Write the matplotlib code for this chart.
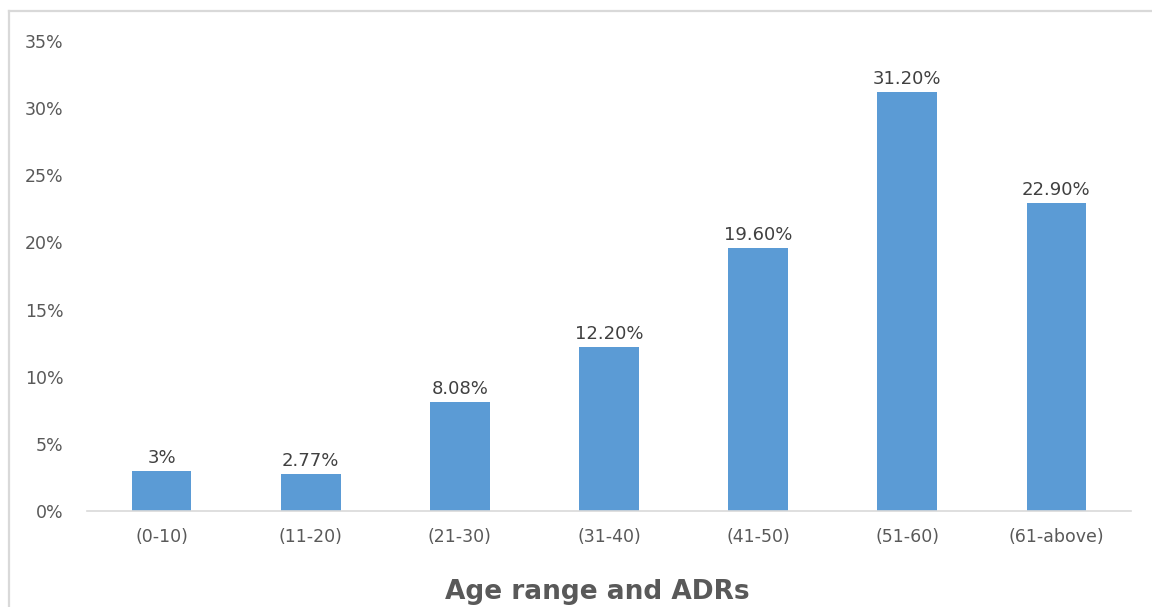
import matplotlib.pyplot as plt
from matplotlib.lines import Line2D
from matplotlib.ticker import FuncFormatter

age_groups = ['(0-10)', '(11-20)', '(21-30)', '(31-40)', '(41-50)', '(51-60)', '(61-above)']
adr_share = [3.0, 2.77, 8.08, 12.20, 19.60, 31.20, 22.90]
bar_labels = ['3%', '2.77%', '8.08%', '12.20%', '19.60%', '31.20%', '22.90%']
y_ticks = [0, 5, 10, 15, 20, 25, 30, 35]

W, H = 1152, 607
text_col = '#595959'
plt.rcParams['font.family'] = ['DejaVu Sans']

fig = plt.figure(figsize=(W / 100, H / 100), dpi=100)
ax = fig.add_axes([87 / W, (H - 511) / H, (1131 - 87) / W, (511 - 41) / H])

x = range(len(age_groups))
bars = ax.bar(x, adr_share, width=0.4, color='#5B9BD5', zorder=2)

for b, lab in zip(bars, bar_labels):
    ax.annotate(lab, (b.get_x() + b.get_width() / 2, b.get_height()),
                xytext=(0, 3), textcoords='offset points',
                ha='center', va='bottom', fontsize=13, color='#404040')

ax.set_xlim(-0.5, len(age_groups) - 0.5)
ax.set_ylim(0, 35)
ax.set_yticks(y_ticks)
ax.yaxis.set_major_formatter(FuncFormatter(lambda v, p: f'{v:.0f}%'))
ax.set_xticks(list(x))
ax.set_xticklabels(age_groups)
ax.tick_params(axis='y', length=0, pad=17, labelsize=12.5, labelcolor=text_col)
ax.tick_params(axis='x', length=0, pad=12, labelsize=12.5, labelcolor=text_col)

for side in ['top', 'right', 'left']:
    ax.spines[side].set_visible(False)
ax.spines['bottom'].set_color('#D9D9D9')
ax.spines['bottom'].set_linewidth(1.2)

fig.text(597 / W, 1 - 592 / H, 'Age range and ADRs', ha='center', va='center',
         fontsize=19, fontweight='bold', color=text_col)

# chart area frame (top and left edges)
fig.add_artist(Line2D([9 / W, 1], [1 - 11 / H, 1 - 11 / H], transform=fig.transFigure,
                      color='#D9D9D9', lw=1.6))
fig.add_artist(Line2D([9 / W, 9 / W], [0, 1 - 11 / H], transform=fig.transFigure,
                      color='#D9D9D9', lw=1.6))

fig.savefig('out.png', dpi=100)
